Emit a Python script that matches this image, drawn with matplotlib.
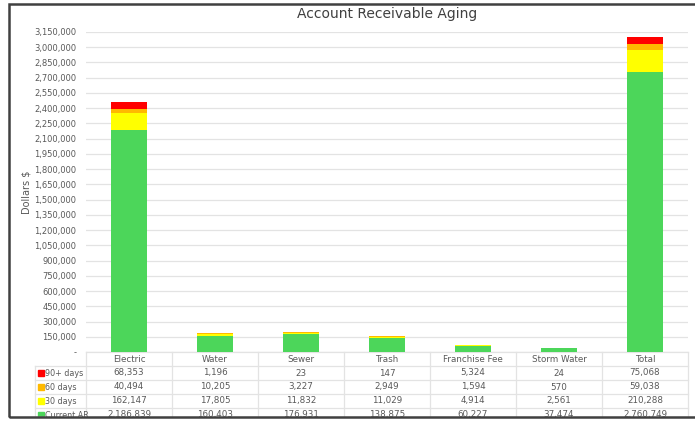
import numpy as np
import matplotlib.pyplot as plt
from matplotlib.patches import Rectangle
from matplotlib.ticker import FuncFormatter, MultipleLocator

# --- datos ---
categories = ['Electric', 'Water', 'Sewer', 'Trash', 'Franchise Fee', 'Storm Water', 'Total']
current_ar = [2186839, 160403, 176931, 138875, 60227, 37474, 2760749]
days_30 = [162147, 17805, 11832, 11029, 4914, 2561, 210288]
days_60 = [40494, 10205, 3227, 2949, 1594, 570, 59038]
days_90 = [68353, 1196, 23, 147, 5324, 24, 75068]

series = [
    ('Current AR', current_ar, '#4CD65A'),
    ('30 days', days_30, '#FFFF00'),
    ('60 days', days_60, '#FFB900'),
    ('90+ days', days_90, '#FF0000'),
]
table_rows = ['90+ days', '60 days', '30 days', 'Current AR']

W, H = 695, 421
fig = plt.figure(figsize=(W / 100, H / 100), dpi=100)
ax = fig.add_axes([86 / W, (H - 352) / H, (688 - 86) / W, 320 / H])

txt = '#595959'
grid = '#E3E3E3'

x = np.arange(len(categories))
bottom = np.zeros(len(categories))
for name, vals, col in series:
    ax.bar(x, vals, 0.41, bottom=bottom, color=col, zorder=3)
    bottom += np.array(vals)

ax.set_xlim(-0.5, len(categories) - 0.5)
ax.set_ylim(0, 3150000)
ax.yaxis.set_major_locator(MultipleLocator(150000))
ax.yaxis.set_major_formatter(FuncFormatter(lambda v, p: '-' if v == 0 else f'{v:,.0f}'))
ax.tick_params(axis='y', labelsize=6, colors=txt, length=0, pad=7)
ax.tick_params(axis='x', bottom=False, labelbottom=False)
ax.grid(axis='y', color=grid, linewidth=0.9, zorder=0)
for s in ax.spines.values():
    s.set_visible(False)
ax.set_ylabel('Dollars $', fontsize=7, color=txt)
ax.yaxis.set_label_coords(-0.091, 0.5)
ax.set_title('Account Receivable Aging', fontsize=10, color='#404040', pad=10)

# --- tabla de datos ---
tr = ax.get_xaxis_transform()
row_h = 14 / 320
left = -0.5 - 51 / 86
right = len(categories) - 0.5
n_rows = len(table_rows) + 1
# lineas horizontales
ax.plot([-0.5, right], [0, 0], transform=tr, color=grid, lw=0.9, clip_on=False)
for r in range(1, n_rows + 1):
    y = -r * row_h
    ax.plot([left, right], [y, y], transform=tr, color=grid, lw=0.9, clip_on=False)
# lineas verticales
for i in range(len(categories) + 1):
    ax.plot([i - 0.5, i - 0.5], [0, -n_rows * row_h], transform=tr, color=grid, lw=0.9, clip_on=False)
ax.plot([left, left], [-row_h, -n_rows * row_h], transform=tr, color=grid, lw=0.9, clip_on=False)

for i, c in enumerate(categories):
    ax.text(i, -0.5 * row_h, c, transform=tr, ha='center', va='center', fontsize=6.3, color=txt, clip_on=False)

lookup = {name: (vals, col) for name, vals, col in series}
for r, name in enumerate(table_rows):
    vals, col = lookup[name]
    y = -(r + 1.5) * row_h
    ax.add_patch(Rectangle((left + 0.03, y - 0.009), 0.07, 0.018, transform=tr, color=col, clip_on=False))
    ax.text(left + 0.115, y, name, transform=tr, ha='left', va='center', fontsize=5.8, color=txt, clip_on=False)
    for i, v in enumerate(vals):
        ax.text(i, y, f'{v:,}', transform=tr, ha='center', va='center', fontsize=6.3, color=txt, clip_on=False)

# marco exterior
fig.patches.append(Rectangle((9 / W, 4 / H), 700 / W, (417 - 4) / H, transform=fig.transFigure,
                             fill=False, edgecolor='#404040', lw=1.8, zorder=10))
# fondo blanco bajo el marco
fig.patches.append(Rectangle((0, 0), 1, 4 / H, transform=fig.transFigure, color='white', zorder=9))

fig.savefig('out.png', dpi=100)
